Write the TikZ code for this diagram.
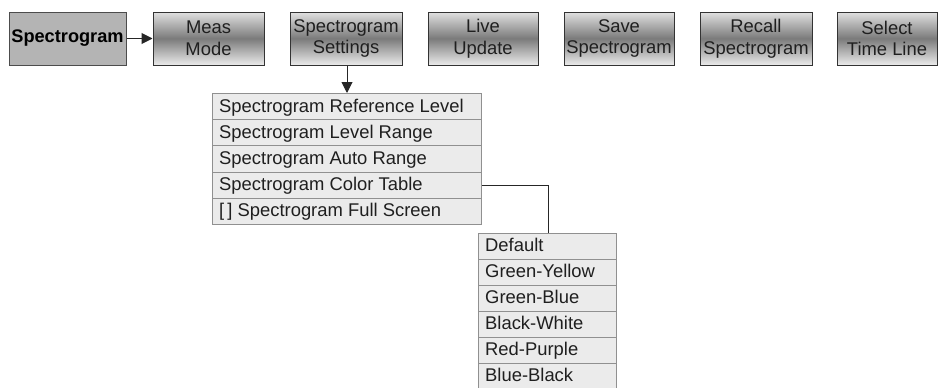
\documentclass[tikz,border=0pt]{standalone}
\usepackage{fontspec}
\setmainfont{Liberation Sans}
\usetikzlibrary{arrows.meta}
\definecolor{menufill}{HTML}{EBEBEB}
\definecolor{menuline}{HTML}{909090}
\definecolor{softkey}{HTML}{B4B4B4}
\tikzset{
  topkey/.style={draw=black!80, line width=1pt, minimum width=111pt, minimum height=53pt,
    top color=black!12, bottom color=black!8, middle color=black!52, inner sep=0pt,
    align=center, font=\fontsize{18.4}{21.5}\selectfont, text=black!88},
  rootkey/.style={draw=black!70, line width=1pt, fill=softkey, minimum width=117pt, minimum height=53pt,
    inner sep=0pt, font=\fontsize{18.2}{21}\selectfont\bfseries},
  menuitem/.style={draw=menuline, line width=1pt, fill=menufill, minimum height=26.2pt, inner sep=0pt,
    anchor=north west},
  menutext/.style={anchor=base west, inner sep=0pt, font=\fontsize{18.4}{21}\selectfont, text=black!88},
  conn/.style={line width=1pt, draw=black!85},
  arr/.style={conn, -{Triangle[length=11pt,width=11pt]}}
}
\begin{document}
\begin{tikzpicture}[x=1pt,y=-1pt]
\useasboundingbox (0,0) rectangle (938,388);
\clip (0,0) rectangle (938,388);
% top row
\node[rootkey] (spec) at (67.5,38.5) {Spectrogram};
\node[topkey] (meas) at (208.5,38.5) {Meas\\Mode};
\node[topkey, minimum width=112pt] (sset) at (346,38.5) {Spectrogram\\Settings};
\node[topkey, minimum width=110pt] (live) at (483,38.5) {Live\\Update};
\node[topkey, minimum width=110pt] (save) at (619,38.5) {Save\\Spectrogram};
\node[topkey, minimum width=112pt] (recall) at (756,38.5) {Recall\\Spectrogram};
\node[topkey, minimum width=100pt] (sel) at (887,38.5) {Select\\Time Line};
\draw[arr] (spec.east) -- (meas.west);
% settings menu
\foreach \t [count=\i] in {Spectrogram Reference Level, Spectrogram Level Range, Spectrogram Auto Range, Spectrogram Color Table, [\,] Spectrogram Full Screen}{
  \node[menuitem, minimum width=269pt] (m\i) at (212,{93+(\i-1)*26.2}) {};
  \node[menutext] (mt\i) at (219,{93+(\i-1)*26.2+19}) {\t};
}
\draw[arr] (sset.south -| 347,0) -- (347,93);
% color table menu
\foreach \t [count=\i] in {Default, Green-Yellow, Green-Blue, Black-White, Red-Purple, Blue-Black}{
  \node[menuitem, minimum width=138pt] (c\i) at (478,{233+(\i-1)*26}) {};
  \node[menutext] (ct\i) at (485,{233+(\i-1)*26+18.7}) {\t};
}
\coordinate (bend) at (548,0);
\draw[conn] (m4.east) -| (bend |- c1.north);
\end{tikzpicture}
\end{document}
